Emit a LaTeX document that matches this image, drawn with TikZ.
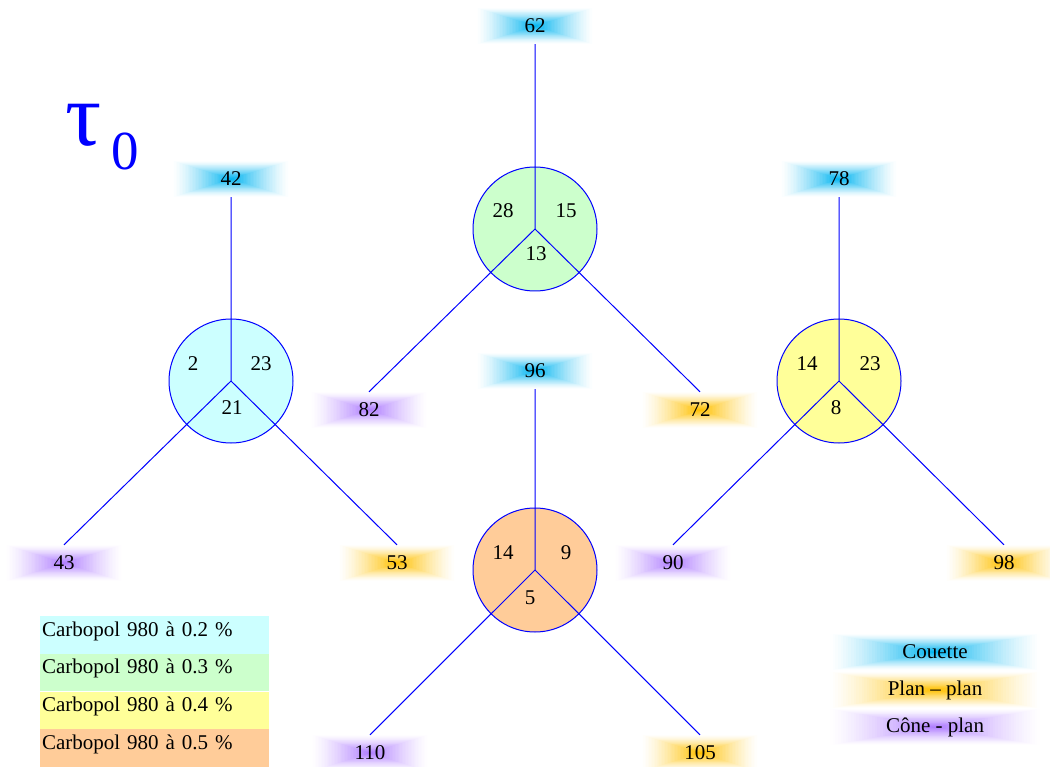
\documentclass[tikz,border=0pt]{standalone}
\usepackage{fontspec}
\setmainfont{Liberation Serif}
\definecolor{bcyan}{RGB}{0,180,240}
\definecolor{borange}{RGB}{255,192,0}
\definecolor{bpurple}{RGB}{175,125,255}
\definecolor{fcyan}{RGB}{204,255,255}
\definecolor{fgreen}{RGB}{204,255,204}
\definecolor{fyellow}{RGB}{255,255,153}
\definecolor{forange}{RGB}{255,204,153}
% rectangular "from centre" gradient as nested, proportionally scaled rectangles:
% colour, half width, half height
\newcommand\bdgfill[3]{%
  \coordinate (bc) at (path picture bounding box.center);
  \foreach \k in {0,...,39}{%
    \pgfmathsetmacro\f{1-\k/40}%
    \pgfmathsetmacro\pc{100*((\k+0.5)/40)^1.3}%
    \fill[#1!\pc!white]
      ([shift={(-\f*#2 pt,-\f*#3 pt)}]bc) rectangle ([shift={(\f*#2 pt,\f*#3 pt)}]bc);
  }%
}
\begin{document}
\begin{tikzpicture}[x=1pt,y=-1pt,
  every node/.style={font=\fontsize{21}{25}\selectfont, inner sep=0pt},
  badge/.style={minimum width=116pt, minimum height=36pt,
    path picture={\bdgfill{#1}{58}{18}}},
  wbadge/.style={minimum width=210pt, minimum height=36pt,
    path picture={\bdgfill{#1}{105}{18}}},
  disc/.style={circle, draw=blue, line width=1pt, minimum size=124pt},
  link/.style={draw=blue, line width=1pt},
  legbox/.style={rectangle, text width=225pt, align=left, inner xsep=2pt, inner ysep=0pt, text height=20pt, text depth=17.75pt}
]
\useasboundingbox (0,0) rectangle (1050,767);

% circles
\node[disc, fill=fcyan]   (c1) at (231,381) {};
\node[disc, fill=fgreen]  (c2) at (535,229) {};
\node[disc, fill=fyellow] (c3) at (839,381) {};
\node[disc, fill=forange] (c4) at (535,570) {};

% badges
\node[badge=bcyan]   (b62)  at (535,26)  {62};
\node[badge=bpurple] (b82)  at (369,410) {82};
\node[badge=borange] (b72)  at (700,410) {72};
\node[badge=bcyan]   (b42)  at (231,179) {42};
\node[badge=bpurple] (b43)  at (64,563)  {43};
\node[badge=borange] (b53)  at (397,563) {53};
\node[badge=bcyan]   (b78)  at (839,179) {78};
\node[badge=bpurple] (b90)  at (673,563) {90};
\node[badge=borange] (b98)  at (1004,563) {98};
\node[badge=bcyan]   (b96)  at (535,371) {96};
\node[badge=bpurple] (b110) at (370,753) {110};
\node[badge=borange] (b105) at (700,753) {105};

% connectors
\draw[link] (b42.south) -- (c1.center) -- (b43.north);
\draw[link] (c1.center) -- (b53.north);
\draw[link] (b62.south) -- (c2.center) -- (b82.north);
\draw[link] (c2.center) -- (b72.north);
\draw[link] (b78.south) -- (c3.center) -- (b90.north);
\draw[link] (c3.center) -- (b98.north);
\draw[link] (b96.south) -- (c4.center) -- (b110.north);
\draw[link] (c4.center) -- (b105.north);

% numbers
\node (n1a) at (193,364) {2};
\node (n1b) at (261,364) {23};
\node (n1c) at (232,408) {21};
\node (n2a) at (503,211) {28};
\node (n2b) at (566,211) {15};
\node (n2c) at (536,254) {13};
\node (n3a) at (807,364) {14};
\node (n3b) at (870,364) {23};
\node (n3c) at (836,408) {8};
\node (n4a) at (503,553) {14};
\node (n4b) at (566,553) {9};
\node (n4c) at (530,598) {5};

% tau_0
\node[text=blue, font=\fontsize{90}{90}\selectfont] (tau) at (84,125) {τ};
\node[text=blue, font=\fontsize{55}{55}\selectfont] (tau0) at (125,151) {0};

% left legend
\node[legbox, fill=fcyan]   (l1) at (154.5,634.9) {Carbopol 980 à 0.2 \%};
\node[legbox, fill=fgreen]  (l2) at (154.5,672.6) {Carbopol 980 à 0.3 \%};
\node[legbox, fill=fyellow] (l3) at (154.5,710.4) {Carbopol 980 à 0.4 \%};
\node[legbox, fill=forange] (l4) at (154.5,748.1) {Carbopol 980 à 0.5 \%};

% right legend
\node[wbadge=bcyan]   (r1) at (935,652) {Couette};
\node[wbadge=borange] (r2) at (935,690) {Plan – plan};
\node[wbadge=bpurple] (r3) at (935,727) {Cône - plan};
\end{tikzpicture}
\end{document}
